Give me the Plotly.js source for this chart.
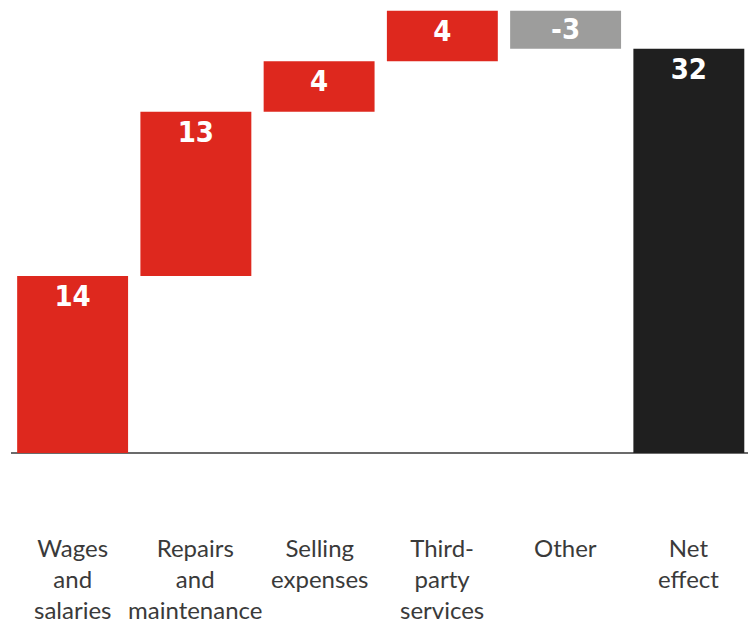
<!DOCTYPE html>
<html>
<head>
<meta charset="utf-8">
<script src="https://cdn.plot.ly/plotly-3.0.1.min.js"></script>
<style>html,body{margin:0;padding:0;background:#fff;}#chart{width:748px;height:619px;}</style>
</head>
<body>
<div id="chart"></div>
<script>
const categories = ["Wages and salaries", "Repairs and maintenance", "Selling expenses", "Third-party services", "Other", "Net effect"];
const tickLabels = ["Wages<br>and<br>salaries", "Repairs<br>and<br>maintenance", "Selling<br>expenses", "Third-<br>party<br>services", "Other", "Net<br>effect"];
const values = [14, 13, 4, 4, -3, 32];
const measures = ["relative", "relative", "relative", "relative", "relative", "total"];

const trace = {
  type: "waterfall",
  x: categories,
  y: values,
  measure: measures,
  text: values.map(String),
  textposition: "inside",
  insidetextanchor: "end",
  textangle: 0,
  constraintext: "none",
  textfont: {family: "DejaVu Sans Condensed, Liberation Sans Narrow, sans-serif", size: 29, color: "#ffffff", weight: "bold"},
  increasing: {marker: {color: "#de281e", line: {width: 0}}},
  decreasing: {marker: {color: "#9d9d9c", line: {width: 0}}},
  totals: {marker: {color: "#1f1f1f", line: {width: 0}}},
  connector: {visible: false},
  width: 0.9,
  hoverinfo: "skip"
};

const annotations = categories.map((c, i) => ({
  x: c, xref: "x", y: -0.172, yref: "paper",
  text: tickLabels[i], showarrow: false, yanchor: "top", xanchor: "center",
  align: "center",
  font: {family: "Lato, Open Sans, sans-serif", size: 24, color: "#3a3a3a"}
}));

const layout = {
  width: 748, height: 619,
  margin: {l: 11, r: 0, t: 0, b: 166},
  paper_bgcolor: "#ffffff", plot_bgcolor: "#ffffff",
  showlegend: false,
  xaxis: {type: "category", range: [-0.5, 5.48], showticklabels: false, ticks: "", showgrid: false, zeroline: false, showline: false, fixedrange: true},
  yaxis: {range: [0, 35.85], showticklabels: false, showgrid: false, zeroline: true, zerolinecolor: "#6b6b6b", zerolinewidth: 1.5, showline: false, fixedrange: true},
  annotations: annotations
};

Plotly.newPlot("chart", [trace], layout, {displayModeBar: false, staticPlot: true});
</script>
</body>
</html>
